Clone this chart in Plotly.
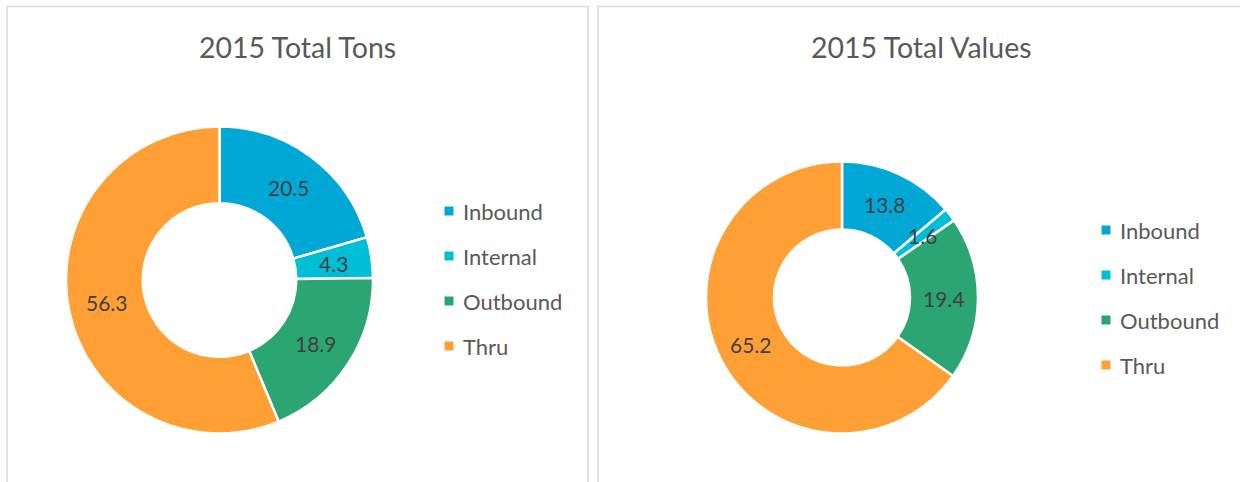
import math
import plotly.graph_objects as go

# Freight shares for 2015, percent of total
categories = ["Inbound", "Internal", "Outbound", "Thru"]
tons_values = [20.5, 4.3, 18.9, 56.3]
value_values = [13.8, 1.6, 19.4, 65.2]
titles = ["2015 Total Tons", "2015 Total Values"]
colors = ["#02A8D5", "#00BED6", "#2BA673", "#FFA037"]

W, H = 1240, 482
FONT = "Lato"
TEXT_GRAY = "#404040"
TITLE_GRAY = "#595959"
HOLE = 0.5


def px_x(x):
    return x / W


def px_y(y):
    return 1 - y / H


fig = go.Figure()
shapes = []
annotations = []

# (center x, center y, radius) for each donut in pixels
donuts = [(219.5, 280, 153.5), (842, 297.5, 136)]
series = [tons_values, value_values]

for (cx, cy, r), vals in zip(donuts, series):
    fig.add_trace(go.Pie(
        labels=categories,
        values=vals,
        hole=HOLE,
        sort=False,
        direction="clockwise",
        rotation=0,
        textinfo="none",
        marker=dict(colors=colors, line=dict(color="white", width=2.5)),
        domain=dict(x=[px_x(cx - r), px_x(cx + r)], y=[px_y(cy + r), px_y(cy - r)]),
        showlegend=False,
        hoverinfo="label+value",
    ))

    # Value labels sit at the middle of each ring segment
    total = sum(vals)
    r_mid = r * (1 + HOLE) / 2
    start = 0.0
    for v in vals:
        ang = 2 * math.pi * (start + v / 2) / total
        start += v
        annotations.append(dict(
            text=f"{v:.1f}", xref="paper", yref="paper",
            x=px_x(cx + r_mid * math.sin(ang)), y=px_y(cy - r_mid * math.cos(ang)),
            xanchor="center", yanchor="middle", showarrow=False,
            font=dict(family=FONT, size=21, color=TEXT_GRAY)))

# Panel frames and titles
panels = [(7, 588, 297.5), (598, 1250, 921)]
for (x0, x1, tx), title in zip(panels, titles):
    shapes.append(dict(type="rect", xref="paper", yref="paper",
                       x0=px_x(x0), x1=px_x(x1), y0=px_y(490), y1=px_y(6.5),
                       line=dict(color="#D9D9D9", width=1.5), fillcolor="rgba(0,0,0,0)",
                       layer="below"))
    annotations.append(dict(text=title, xref="paper", yref="paper",
                            x=px_x(tx), y=px_y(47),
                            xanchor="center", yanchor="middle", showarrow=False,
                            font=dict(family=FONT, size=28.5, color=TITLE_GRAY)))

# Legends: (marker x, first row y) per panel, rows 45 px apart
legend_pos = [(449, 211), (1106, 230)]
for mx, my in legend_pos:
    for i, (cat, col) in enumerate(zip(categories, colors)):
        y = my + 45 * i
        shapes.append(dict(type="rect", xref="paper", yref="paper",
                           x0=px_x(mx - 4.5), x1=px_x(mx + 4.5),
                           y0=px_y(y + 4.5), y1=px_y(y - 4.5),
                           line=dict(width=0), fillcolor=col))
        annotations.append(dict(text=cat, xref="paper", yref="paper",
                                x=px_x(mx + 12), y=px_y(y), xanchor="left", yanchor="middle",
                                showarrow=False,
                                font=dict(family=FONT, size=22, color=TITLE_GRAY)))

fig.update_layout(
    width=W, height=H,
    margin=dict(l=0, r=0, t=0, b=0),
    paper_bgcolor="white", plot_bgcolor="white",
    shapes=shapes, annotations=annotations,
)

fig.write_html("out.html")
